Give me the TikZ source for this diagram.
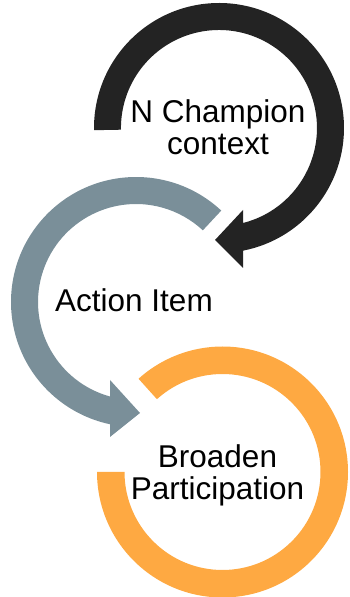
\documentclass[tikz,border=0pt]{standalone}
\usepackage{fontspec}
\setmainfont{Liberation Sans}
\definecolor{RingBlack}{HTML}{232323}
\definecolor{RingGrey}{HTML}{7A8F99}
\definecolor{RingOrange}{HTML}{FEA942}
\tikzset{ring text/.style={font=\fontsize{31.5}{32}\selectfont, align=center, inner sep=0pt}}

\begin{document}
\begin{tikzpicture}[x=1pt, y=1pt]
\useasboundingbox (0,0) rectangle (349,597);

\coordinate (O1) at (219, 469);
\coordinate (O2) at (136, 295);
\coordinate (O3) at (222.5, 125);

% Anillos con flecha, rellenos como superficies
\fill[RingBlack, shift={(O1)}]
(181:98) -- (181:125) arc[start angle=181, end angle=-78.9, radius=125]
-- (24,-140) -- (-4,-112) -- (24,-82) -- (24,-95)
arc[start angle=-75.8, end angle=181, radius=98] -- cycle;

\fill[RingGrey, shift={(O2)}]
(47:98) -- (47:125) arc[start angle=47, end angle=258, radius=125]
-- (-26,-135) -- (4,-111) -- (-26,-78) -- (-26,-94.5)
arc[start angle=254.6, end angle=47, radius=98] -- cycle;

\fill[RingOrange, shift={(O3)}]
(180:98) -- (180:125.5) arc[start angle=180, end angle=492, radius=125.5]
-- (132:98) arc[start angle=132, end angle=-180, radius=98] -- cycle;

% Textos dentro de cada anillo
\node[ring text] (champion) at (218, 469.5) {N Champion\\context};
\node[ring text] (action) at (134, 296.3) {Action Item};
\node[ring text] (broaden) at (217.5, 121.7) {Broaden\\Participation};

\end{tikzpicture}
\end{document}
